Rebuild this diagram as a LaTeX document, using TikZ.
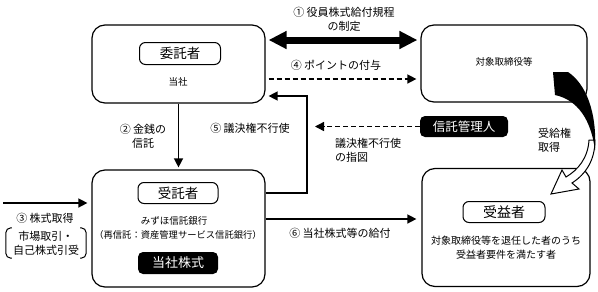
\documentclass[tikz,border=0pt]{standalone}
\usepackage{fontspec}
\newfontfamily\jp{Noto Sans CJK JP}
\usetikzlibrary{arrows.meta,calc}
\begin{document}
\begin{tikzpicture}[x=1pt,y=-1pt,
  every node/.style={font=\jp},
  bigbox/.style={draw, line width=1.2pt, rounded corners=13pt, inner sep=0pt},
  titlebox/.style={draw, line width=1pt, rounded corners=6pt, minimum width=81pt, minimum height=22pt, inner sep=0pt, font=\jp\fontsize{13.5}{15}\selectfont},
  blackbox/.style={fill=black, text=white, rounded corners=5pt, inner sep=0pt, font=\jp\fontsize{13}{15}\selectfont},
  lbl/.style={font=\jp\fontsize{11}{14}\selectfont, align=center, inner sep=0pt},
  small/.style={font=\jp\fontsize{9.5}{14}\selectfont, align=center, inner sep=0pt},
  arr/.style={line width=1.4pt, -{Triangle[length=9pt,width=9pt]}},
  darr/.style={arr, dash pattern=on 5pt off 3pt},
  thickarr/.style={line width=7pt, {Triangle[length=18pt,width=17pt]}-{Triangle[length=18pt,width=17pt]}}
]
\useasboundingbox (0,0) rectangle (598,292);

% main boxes
\node[bigbox, minimum width=173pt, minimum height=78pt] (A) at (178.5,64) {};
\node[bigbox, minimum width=166pt, minimum height=77pt] (B) at (504,63.5) {};
\node[bigbox, minimum width=173pt, minimum height=117pt] (C) at (178.5,228.5) {};
\node[bigbox, minimum width=168pt, minimum height=118pt] (D) at (506,227.5) {};

% contents
\node[titlebox] (tA) at (180,53.5) {委託者};
\node[small] (tA2) at (178,82) {当社};
\node[small] (tB) at (504,62) {対象取締役等};
\node[titlebox, minimum width=80pt, minimum height=21pt] (tC) at (178,193) {受託者};
\node[small] (tC2) at (174,221) {みずほ信託銀行};
\node[small, font=\jp\fontsize{9.3}{12}\selectfont] (tC3) at (178,235) {（再信託：資産管理サービス信託銀行）};
\node[blackbox, minimum width=80pt, minimum height=22pt] (sC) at (178,263) {当社株式};
\node[titlebox, minimum width=82pt, minimum height=21pt, font=\jp\fontsize{14}{16}\selectfont] (tD) at (504,212) {受益者};
\node[small, font=\jp\fontsize{10}{14}\selectfont] (tD2) at (506,248) {対象取締役等を退任した者のうち\\受益者要件を満たす者};
\node[blackbox, minimum width=88pt, minimum height=21pt, font=\jp\fontsize{12.5}{15}\selectfont] (T) at (464,126.5) {信託管理人};

% labels
\node[lbl] (l1) at (344,19.5) {① 役員株式給付規程\\の制定};
\node[lbl] (l4) at (336,65) {④ ポイントの付与};
\node[lbl] (l2) at (143,136) {② 金銭の\\信託};
\node[lbl] (l5) at (250,128) {⑤ 議決権不行使};
\node[lbl, anchor=west, align=left] (l7) at (335,150.5) {議決権不行使\\の指図};
\node[lbl] (l3) at (45,218) {③ 株式取得};
\node[lbl, minimum width=80pt, minimum height=30pt] (M) at (46,243) {市場取引・\\自己株式引受};
\node[lbl] (l6) at (340,233) {⑥ 当社株式等の給付};
\node[lbl, anchor=west, align=left] (l8) at (538,140) {受給権\\取得};

% brackets
\draw[line width=1pt, rounded corners=5pt] ([xshift=6pt]M.north west) -- (M.north west) -- (M.south west) -- ([xshift=6pt]M.south west);
\draw[line width=1pt, rounded corners=5pt] ([xshift=-6pt]M.north east) -- (M.north east) -- (M.south east) -- ([xshift=-6pt]M.south east);

% connectors
\draw[thickarr, shorten <=3pt, shorten >=3pt] ([yshift=24pt]A.east) -- ([yshift=24pt]A.east -| B.west);
\draw[darr, shorten <=3pt, shorten >=4pt] ([yshift=-15pt]A.east) -- ([yshift=-15pt]A.east -| B.west);
\coordinate (k5) at (307,96);
\draw[arr, shorten >=3pt] ([yshift=35.5pt]C.east) -| (k5) -- (k5 -| A.east);
\draw[arr, shorten >=2pt] (A.south) -- (C.north);
\coordinate (s3) at (3,203);
\draw[arr, shorten >=4pt] (s3) -- (s3 -| C.west);
\draw[arr, shorten >=5pt] ([yshift=9.5pt]C.east) -- ([yshift=9.5pt]C.east -| D.west);
\coordinate (k6) at (315,127);
\draw[darr] (T.west) -- (T.west -| k6);

% curved arrow
\draw[line width=1pt, fill=white, line join=miter]
  (589,140) .. controls (588,158) and (578,170) .. (566,177) -- (562,170) -- (551,194) -- (579,189) -- (572,183)
  .. controls (586,174) and (595,160) .. (595,140) -- cycle;
\fill (553,72) -- (568,72) .. controls (586,84) and (597,112) .. (595,150)
  .. controls (591,120) and (578,100) .. (555,95) -- cycle;
\end{tikzpicture}
\end{document}
